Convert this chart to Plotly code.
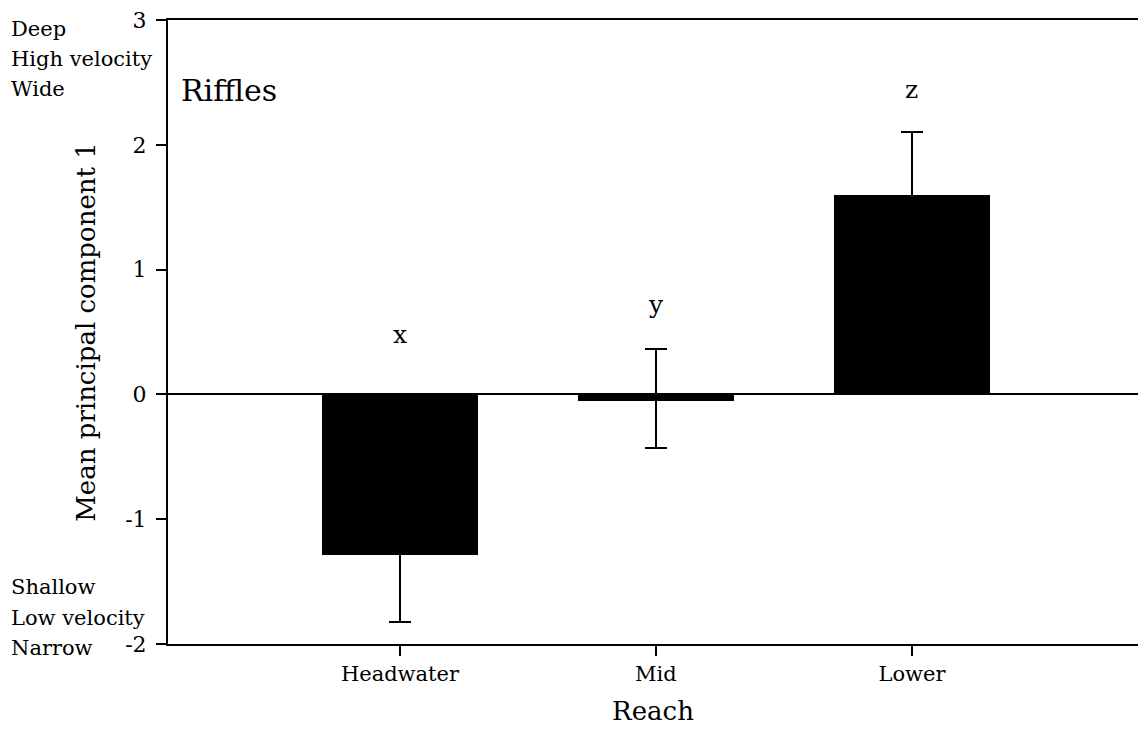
import plotly.graph_objects as go

reaches = ["Headwater", "Mid", "Lower"]
means = [-1.29, -0.05, 1.60]
err_plus = [0.53, 0.41, 0.50]
err_minus = [0.53, 0.38, 0.50]
letters = ["x", "y", "z"]
letter_y = [0.48, 0.72, 2.44]
y_ticks = [-2, -1, 0, 1, 2, 3]
y_ticktext = ["-2", "-1", "0", "1", "2", "3"]

FONT = "DejaVu Serif"

W, H = 1138, 745
ML, MT, MB = 168, 20, 101
PW, PH = W - ML, H - MT - MB


def px_to_paper(px, py):
    return (px - ML) / PW, (H - MB - py) / PH


fig = go.Figure()
fig.add_trace(go.Bar(
    x=[0, 1, 2], y=means, width=0.61,
    marker=dict(color="black", line=dict(width=0)),
    error_y=dict(type="data", symmetric=False, array=err_plus, arrayminus=err_minus,
                 color="black", thickness=2, width=11),
    showlegend=False,
))

for i, (lab, ly) in enumerate(zip(letters, letter_y)):
    fig.add_annotation(x=i, y=ly, text=lab, showarrow=False,
                       font=dict(family=FONT, size=25, color="black"))

rx, ry = px_to_paper(181, 90)
fig.add_annotation(xref="paper", yref="paper", x=rx, y=ry, text="Riffles",
                   showarrow=False, xanchor="left", yanchor="middle", xshift=-2,
                   font=dict(family=FONT, size=30, color="black"))

side_labels = ["Deep", "High velocity", "Wide", "Shallow", "Low velocity", "Narrow"]
side_y = [29, 59, 89, 587, 618, 648]
for t, py in zip(side_labels, side_y):
    ax, ay = px_to_paper(9, py)
    fig.add_annotation(xref="paper", yref="paper", x=ax, y=ay,
                       text=t, showarrow=False, xanchor="left", yanchor="middle",
                       font=dict(family=FONT, size=21, color="black"))

fig.update_layout(
    width=W, height=H,
    margin=dict(l=ML, r=0, t=MT, b=MB, autoexpand=False),
    paper_bgcolor="white", plot_bgcolor="white",
    font=dict(family=FONT, color="black", size=22),
    bargap=0,
    xaxis=dict(
        range=[-0.906, 2.883],
        tickvals=[0, 1, 2], ticktext=reaches,
        showline=True, linecolor="black", linewidth=2, mirror=True,
        ticks="outside", ticklen=10, tickwidth=1.5, tickcolor="black",
        showgrid=False, zeroline=False,
        tickfont=dict(family=FONT, size=21),
        title=dict(text="Reach", font=dict(family=FONT, size=26), standoff=17),
    ),
    yaxis=dict(
        range=[-2, 3],
        tickvals=y_ticks, ticktext=y_ticktext,
        showline=True, linecolor="black", linewidth=2, mirror=False,
        ticks="outside", ticklen=10, tickwidth=1.5, tickcolor="black",
        ticklabelstandoff=5,
        showgrid=False,
        zeroline=True, zerolinecolor="black", zerolinewidth=2,
        tickfont=dict(family=FONT, size=22),
        title=dict(text="Mean principal component 1", font=dict(family=FONT, size=26), standoff=22),
    ),
)

fig.write_html("out.html", config={"displayModeBar": False},
               post_script="document.body.style.margin='0px';document.body.style.overflow='hidden';")
